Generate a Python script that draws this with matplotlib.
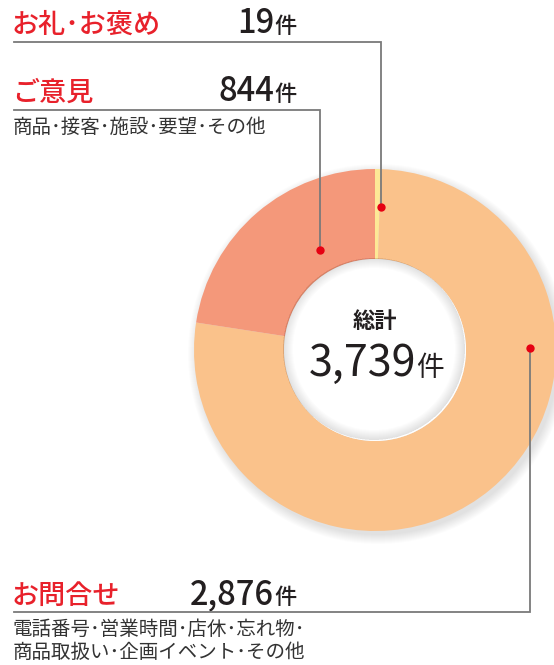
import matplotlib.pyplot as plt
from matplotlib.patches import Circle, Wedge

plt.rcParams['font.family'] = ['Noto Sans CJK JP', 'DejaVu Sans']

# data
categories = ['お礼･お褒め', 'お問合せ', 'ご意見']
counts = [19, 2876, 844]
colors = ['#FDE896', '#FAC28B', '#F4987A']
total = sum(counts)
details = {
    'ご意見': '商品･接客･施設･要望･その他',
    'お問合せ': '電話番号･営業時間･店休･忘れ物･\n商品取扱い･企画イベント･その他',
}

W, H = 554, 665
RED = '#E8212B'
INK = '#231F20'
LINE = '#7A7A7A'


def fy(y):
    # image y (top down) -> axes y (bottom up)
    return H - y


fig = plt.figure(figsize=(W / 100, H / 100), dpi=100)
ax = fig.add_axes([0, 0, 1, 1])

cx, cy, R, r_in = 375, fy(350), 181, 91

# soft outer shadow
for k in range(10):
    ax.add_patch(Circle((cx + 3, cy - 4), R + 9 - k, color='#000000',
                        alpha=0.012, lw=0, zorder=0))

ax.pie(counts, colors=colors, startangle=90, counterclock=False,
       radius=R, center=(cx, cy),
       wedgeprops=dict(width=R - r_in, linewidth=0))

# hole + inner shadow
ax.add_patch(Circle((cx, cy), r_in, color='white', lw=0, zorder=2))
for k in range(10):
    ax.add_patch(Wedge((cx - 1, cy + 1), r_in, 0, 360, width=k + 1,
                       color='#000000', alpha=0.012, lw=0, zorder=3))

ax.text(cx, fy(321), '総計', ha='center', va='center', fontsize=16,
        fontweight='bold', color=INK, zorder=5)
ax.text(cx + 41, fy(376), '{:,}'.format(total), ha='right', va='baseline',
        fontsize=31, color=INK, zorder=5)
ax.text(cx + 41, fy(376), '件', ha='left', va='baseline', fontsize=20,
        color=INK, zorder=5)

# labels + leader lines (layout positions)
labels = {
    'お礼･お褒め': dict(base=33, line_y=42, lead_x=381, dot_y=207),
    'ご意見': dict(base=101, line_y=110, lead_x=320, dot_y=250),
    'お問合せ': dict(base=604, line_y=612, lead_x=530, dot_y=348),
}

for name, n in zip(categories, counts):
    p = labels[name]
    ax.text(12, fy(p['base']), name, ha='left', va='baseline', fontsize=19.5,
            fontweight='medium', color=RED)
    ax.text(274, fy(p['base']), '{:,}'.format(n), ha='right', va='baseline',
            fontsize=23.5, fontweight='medium', color=INK)
    ax.text(274, fy(p['base']), '件', ha='left', va='baseline', fontsize=16,
            fontweight='medium', color=INK)
    ax.plot([14, p['lead_x'], p['lead_x']],
            [fy(p['line_y']), fy(p['line_y']), fy(p['dot_y'])],
            color=LINE, lw=1.3, solid_joinstyle='miter', zorder=6)
    ax.plot(p['lead_x'], fy(p['dot_y']), 'o', ms=6, color='#E60012',
            mec='none', zorder=7)
    if name in details:
        ax.text(13, fy(p['line_y'] + 7), details[name], ha='left', va='top',
                fontsize=14, color='#333333', linespacing=1.15)

ax.set_xlim(0, W)
ax.set_ylim(0, H)
ax.set_aspect('equal')
ax.axis('off')
fig.savefig('out.png', dpi=100, facecolor='white')
